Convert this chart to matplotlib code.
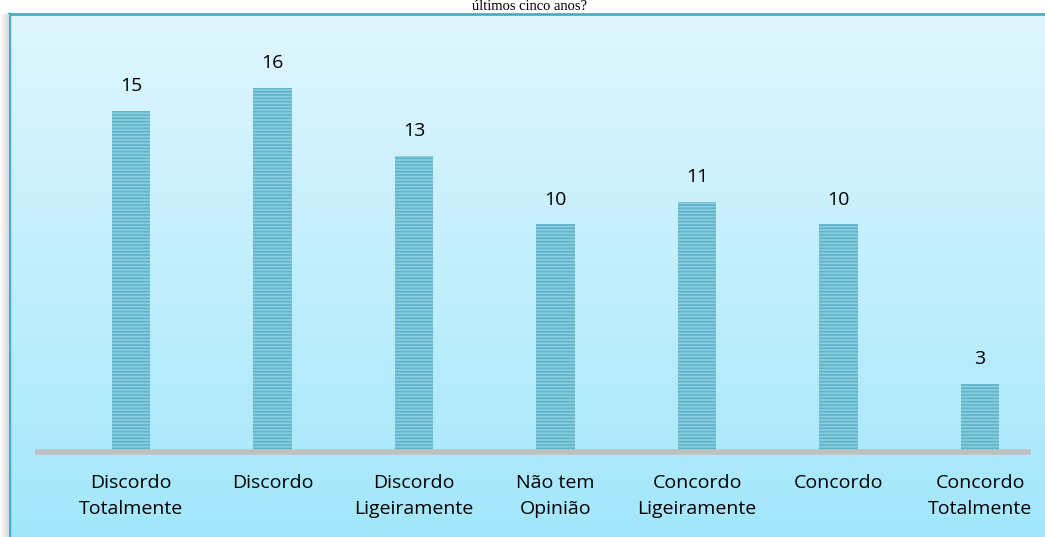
import matplotlib.pyplot as plt
import numpy as np

categories = ["Discordo\nTotalmente", "Discordo", "Discordo\nLigeiramente", "Não tem\nOpinião",
              "Concordo\nLigeiramente", "Concordo", "Concordo\nTotalmente"]
values = [15, 16, 13, 10, 11, 10, 3]
title = "últimos cinco anos?"

W, H = 1045, 537
fig = plt.figure(figsize=(W / 100, H / 100), dpi=100)
fig.patch.set_facecolor("white")

# chart area background with vertical gradient
bg = fig.add_axes([9 / W, 0, 1 - 9 / W, (H - 14) / H])
grad = np.linspace(0, 1, 256).reshape(-1, 1)
top = np.array([0.878, 0.965, 0.992])
bot = np.array([0.640, 0.905, 0.984])
img = top + (bot - top) * grad[:, :, None]
bg.imshow(np.repeat(img, 2, axis=1), aspect="auto", extent=[0, 1, 0, 1], origin="upper")
bg.set_xlim(0, 1)
bg.set_ylim(0, 1)
bg.axis("off")
bg.plot([0, 0], [0, 1], color="#4bacc6", lw=2.5, clip_on=False)
bg.plot([0, 1], [1, 1], color="#4bacc6", lw=2, clip_on=False)

# left shadow
sh = fig.add_axes([0, 0, 9 / W, (H - 14) / H])
sh.imshow(np.linspace(1, 0.85, 20).reshape(1, -1), cmap="gray", vmin=0, vmax=1,
          aspect="auto", extent=[0, 1, 0, 1])
sh.axis("off")

fig.text(529 / W, 1 - 10.5 / H, title, ha="center", va="baseline",
         family="Liberation Serif", fontsize=10.5)

ax = fig.add_axes([38 / W, 85 / H, 990 / W, (452 - 14) / H])
ax.patch.set_alpha(0)
x = np.arange(len(values))
plt.rcParams["hatch.linewidth"] = 1.2
bars = ax.bar(x, values, width=0.27, color="#8ccfe0", edgecolor="#5eb2ca",
              hatch="-----", linewidth=0)
ax.set_xlim(-0.657, 6.339)
ax.set_ylim(0, 19.25)
ax.axhline(0, color="#c0c0c0", lw=4, clip_on=False)
for xi, v in zip(x, values):
    ax.text(xi, v + 0.7, str(v), ha="center", va="bottom", fontsize=14, family="Open Sans")
ax.set_xticks(x)
ax.set_xticklabels(categories, fontsize=14, family="Open Sans", linespacing=1.55)
ax.tick_params(axis="x", length=0, pad=16)
ax.set_yticks([])
for s in ax.spines.values():
    s.set_visible(False)

fig.savefig("out.png", dpi=100)
